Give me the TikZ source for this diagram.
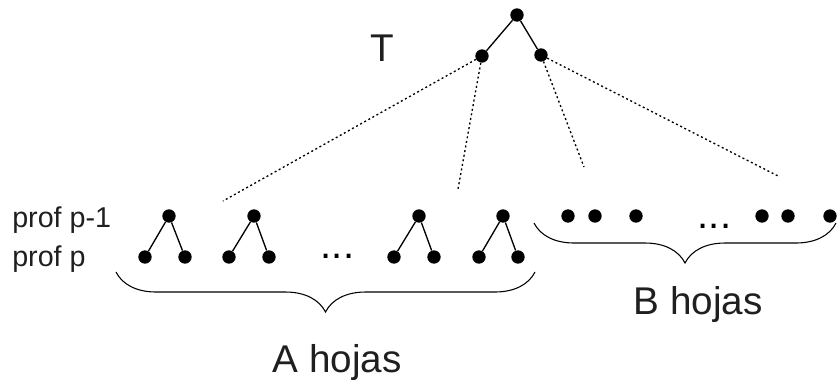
\documentclass[tikz,border=0pt]{standalone}
\usepackage{fontspec}
\setmainfont{Liberation Sans}
\usetikzlibrary{decorations.pathreplacing}

\begin{document}
\begin{tikzpicture}[
  x=0.75pt, y=-0.75pt,
  dotnode/.style={circle, fill=black, inner sep=0pt, minimum size=10pt},
  subedge/.style={line width=1pt},
  dotline/.style={line width=1pt, dash pattern=on 1.5pt off 2pt},
  hbrace/.style={decorate, decoration={brace, mirror, amplitude=30pt}, line width=0.8pt},
  biglabel/.style={inner sep=0pt, text=black!88, font=\fontsize{29}{34}\selectfont},
  proflabel/.style={inner sep=0pt, anchor=base west, text=black!88, font=\fontsize{21.5}{25}\selectfont},
  ellip/.style={inner sep=0pt, anchor=base, font=\fontsize{30}{32}\selectfont},
]
\useasboundingbox (0,0) rectangle (837,380);

% upper part of T
\node[dotnode] (root) at (517,15) {};
\node[dotnode] (lc) at (482,56) {};
\node[dotnode] (rc) at (541,55) {};
\node[biglabel] (tname) at (382,48) {T};
\draw[subedge] (root) -- (lc);
\draw[subedge] (root) -- (rc);

% dotted ends of the paths down to depth p-1
\coordinate (e1) at (223,201);
\coordinate (e2) at (458,189);
\coordinate (e3) at (584,167);
\coordinate (e4) at (778,176);
\draw[dotline] (lc) -- (e1);
\draw[dotline] (lc) -- (e2);
\draw[dotline] (rc) -- (e3);
\draw[dotline] (rc) -- (e4);

% depth labels
\node[proflabel] (p1) at (12,227) {prof p-1};
\node[proflabel] (p0) at (12,266) {prof p};

% small subtrees with two leaves each
\node[dotnode] (ta) at (169,216) {};
\node[dotnode] (ta1) at (145,257) {};
\node[dotnode] (ta2) at (185,257) {};
\node[dotnode] (tb) at (254,216) {};
\node[dotnode] (tb1) at (229,257) {};
\node[dotnode] (tb2) at (269,257) {};
\node[dotnode] (tc) at (419,216) {};
\node[dotnode] (tc1) at (394,257) {};
\node[dotnode] (tc2) at (434,257) {};
\node[dotnode] (td) at (503,216) {};
\node[dotnode] (td1) at (479,257) {};
\node[dotnode] (td2) at (518,257) {};
\draw[subedge] (ta1) -- (ta) -- (ta2);
\draw[subedge] (tb1) -- (tb) -- (tb2);
\draw[subedge] (tc1) -- (tc) -- (tc2);
\draw[subedge] (td1) -- (td) -- (td2);
\node[ellip] (dotsa) at (337.5,258) {...};

% single leaves at depth p-1
\node[dotnode] (b1) at (568,216) {};
\node[dotnode] (b2) at (595,216) {};
\node[dotnode] (b3) at (636,216) {};
\node[dotnode] (b4) at (762,216) {};
\node[dotnode] (b5) at (788,216) {};
\node[dotnode] (b6) at (830,216) {};
\node[ellip] (dotsb) at (714.5,228) {...};

% braces and counts
\coordinate (ba0) at (116,272);
\coordinate (ba1) at (535,272);
\coordinate (bb0) at (534,223);
\coordinate (bb1) at (836,223);
\draw[hbrace] (ba0) -- (ba1);
\draw[hbrace] (bb0) -- (bb1);
\node[biglabel, anchor=base] (acount) at (337,372) {A hojas};
\node[biglabel, anchor=base] (bcount) at (698,314) {B hojas};
\end{tikzpicture}
\end{document}
